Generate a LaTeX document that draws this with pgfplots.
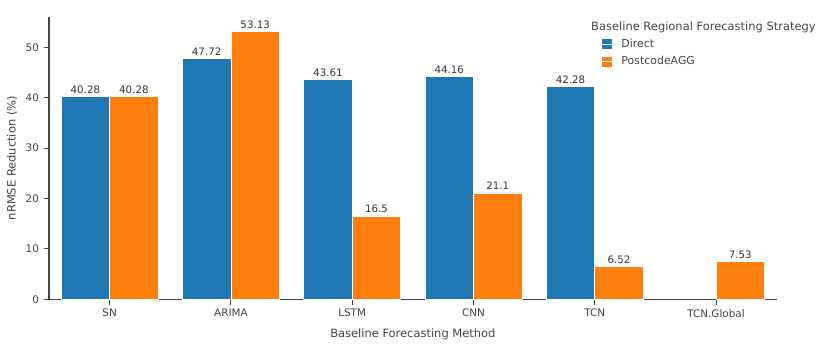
\documentclass[border=0pt]{standalone}
\usepackage{pgfplots}
\pgfplotsset{compat=1.18}
\usepackage{fontspec}
\setmainfont{DejaVu Sans}
\definecolor{pblue}{HTML}{1F77B4}
\definecolor{porange}{HTML}{FF7F0E}
\definecolor{ptext}{HTML}{444444}
\definecolor{blab}{HTML}{333333}
\begin{document}
\begin{tikzpicture}
\begin{axis}[
  scale only axis,
  width=545.8pt, height=211.7pt,
  xmin=-0.5, xmax=5.5, ymin=0, ymax=56,
  enlargelimits=false,
  axis x line=bottom, axis y line=left,
  axis line style={-, ptext, line width=0.8pt},
  tick style={ptext, line width=0.8pt},
  tick align=outside,
  major tick length=4pt,
  xtick={0,1,2,3,4,5},
  xticklabels={SN,ARIMA,LSTM,CNN,TCN,TCN.Global},
  ytick={0,10,20,30,40,50},
  ticklabel style={font=\fontsize{7.8pt}{9pt}\selectfont, text=ptext},
  /pgf/number format/assume math mode=true,
  xlabel={Baseline Forecasting Method},
  ylabel={nRMSE Reduction (\%)},
  xlabel style={font=\fontsize{8.6pt}{10pt}\selectfont, text=ptext, at={(axis description cs:0.5,-0.123)}, anchor=center},
  ylabel style={font=\fontsize{8.6pt}{10pt}\selectfont, text=ptext, at={(axis description cs:-0.0508,0.5)}, anchor=center},
  clip=false,
  legend style={at={(rel axis cs:0.7586,0.933)}, anchor=north west, draw=none, fill=none,
    font=\fontsize{8.2pt}{9.5pt}\selectfont, text=ptext, row sep=1.5pt, inner sep=0pt},
  legend cell align=left,
  legend image code/.code={\path[#1,draw=none] (0pt,-3.75pt) rectangle (7.5pt,3.75pt); \path (0pt,0pt) -- (12.75pt,0pt);},
  nodes near coords,
  point meta=explicit symbolic,
]
\addplot[ybar, bar width=0.4, bar shift=-0.2, fill=pblue, draw=white, line width=0.4pt,
  every node near coord/.append style={font=\fontsize{7.7pt}{9pt}\selectfont, text=blab, xshift=-18.19pt, inner sep=2pt}]
  coordinates {(0,40.28)[40.28] (1,47.72)[47.72] (2,43.61)[43.61] (3,44.16)[44.16] (4,42.28)[42.28]};
\addlegendentry{Direct}
\addplot[ybar, bar width=0.4, bar shift=0.2, fill=porange, draw=white, line width=0.4pt,
  every node near coord/.append style={font=\fontsize{7.7pt}{9pt}\selectfont, text=blab, xshift=18.19pt, inner sep=2pt}]
  coordinates {(0,40.28)[40.28] (1,53.13)[53.13] (2,16.5)[16.5] (3,21.1)[21.1] (4,6.52)[6.52] (5,7.53)[7.53]};
\addlegendentry{PostcodeAGG}
\node[anchor=west, inner sep=0pt, font=\fontsize{8.6pt}{10pt}\selectfont, text=ptext] at (rel axis cs:0.7448,0.9646) {Baseline Regional Forecasting Strategy};
\coordinate (ll) at (rel axis cs:0,0);
\coordinate (ur) at (rel axis cs:1,1);
\end{axis}
\pgfresetboundingbox
\path ([shift={(-36.75pt,-44pt)}]ll) rectangle ([shift={(40pt,12.75pt)}]ur);
\end{tikzpicture}
\end{document}
